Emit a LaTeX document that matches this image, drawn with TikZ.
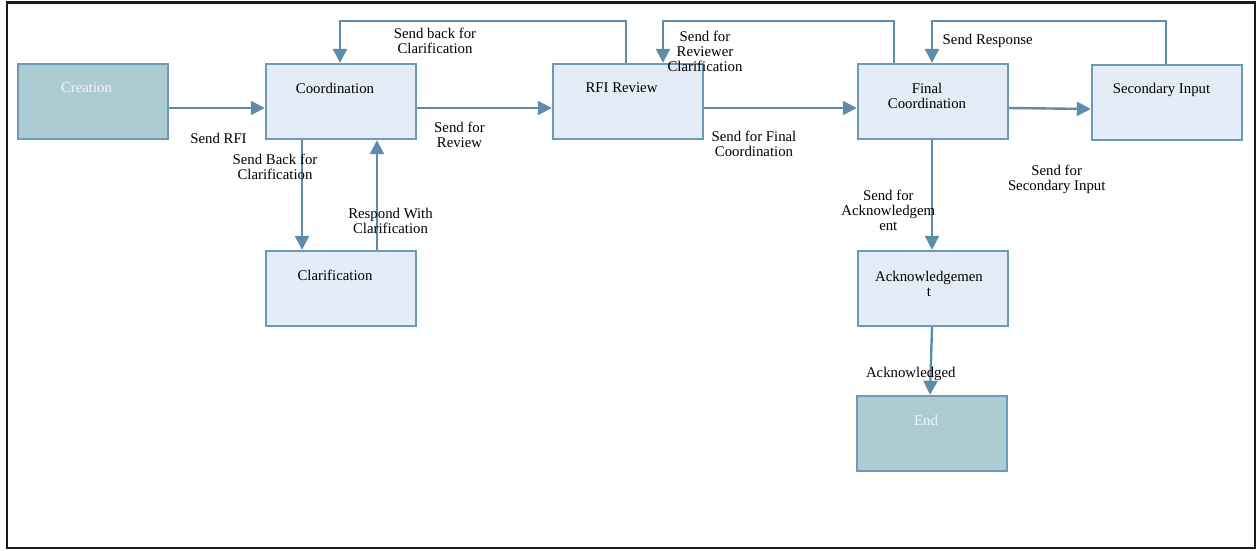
\documentclass[tikz,border=0pt]{standalone}
\usepackage{fontspec}
\setmainfont{Liberation Serif}
\usetikzlibrary{arrows.meta}
\definecolor{boxfill}{HTML}{E4ECF7}
\definecolor{boxline}{HTML}{6D9AB5}
\definecolor{darkfill}{HTML}{ADCBD3}
\definecolor{arrcol}{HTML}{5D8DAA}
\definecolor{paletext}{HTML}{F2F6F7}
\tikzset{
  stepbox/.style={draw=boxline, line width=2.4pt, fill=boxfill, rectangle,
    minimum width=150pt, minimum height=75pt, inner sep=0pt},
  termbox/.style={stepbox, fill=darkfill},
  boxtext/.style={font=\fontsize{14.8}{15}\selectfont, align=center, inner sep=0pt, text=black},
  termtext/.style={boxtext, text=paletext},
  lbl/.style={font=\fontsize{14.8}{15}\selectfont, align=center, inner sep=0pt},
  arr/.style={draw=arrcol, line width=2.4pt, -{Triangle[length=14pt,width=14pt]}, arrows={[fill=arrcol]}},
}
\begin{document}
\begin{tikzpicture}[x=1pt,y=-1pt]
\useasboundingbox (0,0) rectangle (1257,550);
\draw[line width=2.6pt, draw=black!90] (7,2.5) rectangle (1255,548);

% boxes
\node[termbox] (creation) at (93,101.5) {};
\node[stepbox] (coord) at (341,101.5) {};
\node[stepbox] (rfi) at (628,101.5) {};
\node[stepbox] (final) at (933,101.5) {};
\node[stepbox] (sec) at (1167,102.5) {};
\node[stepbox] (clar) at (341,288.5) {};
\node[stepbox] (ack) at (933,288.5) {};
\node[termbox] (end) at (932,433.5) {};

% box texts
\node[termtext] (creationT) at ([xshift=-6.5,yshift=13.5]creation.center) {Creation};
\node[boxtext] (coordT) at ([xshift=-6,yshift=13.5]coord.center) {Coordination};
\node[boxtext] (rfiT) at ([xshift=-6.5,yshift=13.5]rfi.center) {RFI Review};
\node[boxtext] (finalT) at ([xshift=-6,yshift=5.5]final.center) {Final\\Coordination};
\node[boxtext] (secT) at ([xshift=-5.5,yshift=12.5]sec.center) {Secondary Input};
\node[boxtext] (clarT) at ([xshift=-6,yshift=13]clar.center) {Clarification};
\node[boxtext] (ackT) at ([xshift=-4,yshift=4.5]ack.center) {Acknowledgemen\\t};
\node[termtext] (endT) at ([xshift=-6,yshift=13.5]end.center) {End};

% connectors
\draw[arr] ([yshift=-6.5]creation.east) -- ([yshift=-6.5]coord.west);
\draw[arr] ([yshift=-6.5]coord.east) -- ([yshift=-6.5]rfi.west);
\draw[arr] ([yshift=-6.5]rfi.east) -- ([yshift=-6.5]final.west);
\draw[arr] ([yshift=-6.5]final.east) -- ([yshift=-6.5]sec.west);
\draw[arr] ([xshift=-39]coord.south) -- ([xshift=-39]clar.north);
\draw[arr] ([xshift=36]clar.north) -- ([xshift=36]coord.south);
\draw[arr] ([xshift=-2]rfi.north) -- ++(0,-42) -| ([xshift=-1]coord.north);
\draw[arr] ([xshift=-39]final.north) -- ++(0,-42) -| ([xshift=35]rfi.north);
\draw[arr] ([xshift=-1]sec.north) -- ++(0,-43) -| ([xshift=-1]final.north);
\draw[arr] ([xshift=-1]final.south) -- ([xshift=-1]ack.north);
\draw[arr] ([xshift=-1]ack.south) -- ([xshift=-2]end.north);

% labels
\node[lbl] (l1) at (218.5,138) {Send RFI};
\node[lbl] (l2) at (275,166.5) {Send Back for\\Clarification};
\node[lbl] (l3) at (390.5,220.5) {Respond With\\Clarification};
\node[lbl] (l4) at (459.5,135) {Send for\\Review};
\node[lbl] (l5) at (435,40.5) {Send back for\\Clarification};
\node[lbl] (l6) at (705,51.7) {Send for\\Reviewer\\Clarification};
\node[lbl] (l7) at (754,144) {Send for Final\\Coordination};
\node[lbl] (l8) at (987.7,41) {Send Response};
\node[lbl] (l9) at (1056.7,179.8) {Send for\\Secondary Input};
\node[lbl] (l10) at (888.3,210.7) {Send for\\Acknowledgem\\ent};
\node[lbl] (l11) at (910.8,374.3) {Acknowledged};
\end{tikzpicture}
\end{document}
